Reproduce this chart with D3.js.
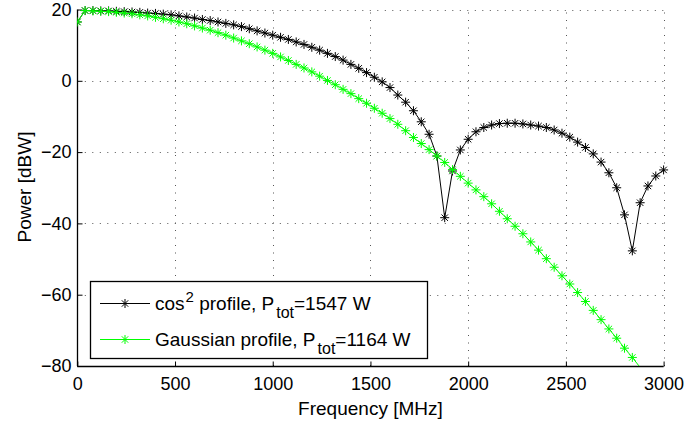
<!DOCTYPE html>
<html>
<head>
<meta charset="utf-8">
<script src="https://cdn.jsdelivr.net/npm/d3@7"></script>
<style>
  body { margin: 0; background: #fff; }
  text { font-family: "Liberation Sans", Arial, sans-serif; fill: #000; }
</style>
</head>
<body>
<svg id="chart"></svg>
<script>
// Chart data: frequency grid in MHz, power in dBW
var freqs = d3.range(0, 3001, 40);

var cosPower = [
  16.5, 19.7, 19.7, 19.6, 19.6, 19.5, 19.4, 19.3, 19.2, 19.0,
  18.9, 18.7, 18.5, 18.2, 17.9, 17.6, 17.2, 16.9, 16.5, 16.1,
  15.7, 15.2, 14.6, 14.0, 13.4, 12.8, 12.2, 11.6, 10.9, 10.2,
  9.4, 8.6, 7.7, 6.8, 5.8, 4.6, 3.5, 2.3, 1.0, -0.3,
  -1.9, -4.0, -6.0, -8.4, -11.5, -15.0, -21.1, -38.4, -25.3, -19.4,
  -16.4, -14.3, -13.1, -12.4, -12.0, -11.9, -11.9, -12.1, -12.4, -12.7,
  -13.1, -13.8, -14.7, -15.8, -17.2, -18.7, -20.5, -22.8, -25.8, -30.0,
  -37.6, -47.7, -34.2, -29.5, -26.7, -25.0
];

var gaussPower = [
  16.5, 19.7, 19.6, 19.5, 19.4, 19.2, 19.0, 18.8, 18.5, 18.2,
  17.8, 17.4, 17.0, 16.5, 16.0, 15.4, 14.8, 14.2, 13.5, 12.8,
  12.0, 11.2, 10.4, 9.5, 8.6, 7.7, 6.7, 5.7, 4.6, 3.6,
  2.5, 1.3, 0.1, -1.1, -2.4, -3.6, -5.0, -6.3, -7.7, -9.1,
  -10.6, -12.2, -14.0, -15.9, -17.6, -19.3, -21.1, -22.9, -24.9, -26.8,
  -28.7, -30.6, -32.5, -34.5, -36.6, -38.7, -40.8, -42.9, -45.2, -47.5,
  -49.9, -52.3, -54.7, -57.0, -59.4, -61.9, -64.4, -67.0, -69.6, -72.2,
  -75.0, -77.6, -80.4, -83.2, -86.0, -88.9
];

var xTicks = [0, 500, 1000, 1500, 2000, 2500, 3000];
var yTicks = [20, 0, -20, -40, -60, -80];

var seriesNames = ["cos2", "gauss"];
var seriesColors = ["#000000", "#00ff00"];

// Set up SVG size
var width = 686, height = 423;
var margin = {left: 77.3, right: 686 - 663.6, top: 9.5, bottom: 423 - 366};

var svg = d3.select("#chart")
    .attr("width", width)
    .attr("height", height);

svg.append("rect")
    .attr("width", width)
    .attr("height", height)
    .attr("fill", "#fff");

var x = d3.scaleLinear().domain([0, 3000]).range([margin.left, width - margin.right]);
var y = d3.scaleLinear().domain([-80, 20]).range([height - margin.bottom, margin.top]);

// dotted grid
var grid = svg.append("g").attr("class", "grid");
grid.selectAll("line.vx")
    .data(xTicks)
    .enter().append("line")
        .attr("x1", d => Math.round(x(d)) + 0.5)
        .attr("x2", d => Math.round(x(d)) + 0.5)
        .attr("y1", y(-80))
        .attr("y2", y(20))
        .attr("stroke", "#555")
        .attr("stroke-width", 1)
        .attr("stroke-dasharray", "1,6.5");
grid.selectAll("line.hy")
    .data(yTicks)
    .enter().append("line")
        .attr("y1", d => Math.round(y(d)) + 0.5)
        .attr("y2", d => Math.round(y(d)) + 0.5)
        .attr("x1", x(0))
        .attr("x2", x(3000))
        .attr("stroke", "#555")
        .attr("stroke-width", 1)
        .attr("stroke-dasharray", "1,6.5");

// axes (left and bottom only, ticks inward)
var xAxis = d3.axisBottom(x).tickValues(xTicks).tickSize(-5).tickPadding(11).tickFormat(d3.format("d"));
var yAxis = d3.axisLeft(y).tickValues(yTicks).tickSize(-5).tickPadding(6)
    .tickFormat(d => d < 0 ? "\u2212" + Math.abs(d) : d);

var gx = svg.append("g")
    .attr("transform", "translate(0," + (Math.round(y(-80)) + 0.5) + ")")
    .call(xAxis);
var gy = svg.append("g")
    .attr("transform", "translate(" + (Math.round(x(0)) + 0.5) + ",0)")
    .call(yAxis);

[gx, gy].forEach(function(g) {
    g.select(".domain").attr("stroke", "#000").attr("stroke-width", 1.3);
    g.selectAll(".tick line").attr("stroke", "#000");
    g.selectAll(".tick text")
        .attr("font-size", "18px")
        .attr("font-family", "Liberation Sans, Arial, sans-serif")
        .attr("fill", "#000");
});
// only the axis lines, no outer ticks
gy.select(".domain").attr("d", "M0," + y(20) + "V" + y(-80));
gx.select(".domain").attr("d", "M" + x(0) + ",0H" + x(3000));

// axis labels
svg.append("text")
    .attr("x", (x(0) + x(3000)) / 2)
    .attr("y", 415)
    .attr("text-anchor", "middle")
    .attr("font-size", "19px")
    .text("Frequency [MHz]");

svg.append("text")
    .attr("transform", "translate(31,187) rotate(-90)")
    .attr("text-anchor", "middle")
    .attr("font-size", "19px")
    .text("Power [dBW]");

// clip to plot area
svg.append("clipPath").attr("id", "plotclip")
    .append("rect")
    .attr("x", x(0)).attr("y", y(20) - 6)
    .attr("width", x(3000) - x(0) + 6)
    .attr("height", y(-80) - y(20) + 6);

var line = d3.line()
    .x((d, i) => x(freqs[i]))
    .y(d => y(d));

// asterisk marker path
function star(cx, cy) {
    var a = 4.5, b = 3.2;
    return "M" + (cx - a) + "," + cy + "H" + (cx + a) +
        "M" + cx + "," + (cy - a) + "V" + (cy + a) +
        "M" + (cx - b) + "," + (cy - b) + "L" + (cx + b) + "," + (cy + b) +
        "M" + (cx - b) + "," + (cy + b) + "L" + (cx + b) + "," + (cy - b);
}

var plot = svg.append("g").attr("clip-path", "url(#plotclip)");

[cosPower, gaussPower].forEach(function(vals, k) {
    var g = plot.append("g").attr("class", "series-" + seriesNames[k]);
    g.append("path")
        .datum(vals)
        .attr("d", line)
        .attr("fill", "none")
        .attr("stroke", seriesColors[k])
        .attr("stroke-width", 1);
    g.selectAll("path.mk")
        .data(vals.filter(v => v >= -80))
        .enter().append("path")
            .attr("class", "mk")
            .attr("d", (d, i) => star(x(freqs[i]), y(d)))
            .attr("fill", "none")
            .attr("stroke", seriesColors[k])
            .attr("stroke-width", 1);
});

// legend
var legend = svg.append("g").attr("class", "legend");
legend.append("rect")
    .attr("x", 90.5).attr("y", 281.5)
    .attr("width", 337).attr("height", 77)
    .attr("fill", "#fff")
    .attr("stroke", "#000")
    .attr("stroke-width", 1.3);

var rows = [
    {yy: 303.5, main: "cos", sup: "2", rest: " profile, P", val: "=1547 W"},
    {yy: 339.5, main: "Gaussian profile, P", sup: null, rest: "", val: "=1164 W"}
];

rows.forEach(function(r, k) {
    legend.append("line")
        .attr("x1", 100).attr("x2", 150)
        .attr("y1", r.yy).attr("y2", r.yy)
        .attr("stroke", seriesColors[k]).attr("stroke-width", 1);
    legend.append("path")
        .attr("d", star(125, r.yy))
        .attr("fill", "none")
        .attr("stroke", seriesColors[k]).attr("stroke-width", 1);
    var t = legend.append("text")
        .attr("x", 155).attr("y", r.yy + 6.5)
        .attr("font-size", "19px");
    t.append("tspan").text(r.main);
    if (r.sup) {
        t.append("tspan").attr("font-size", "15px").attr("dx", 1).attr("dy", -8).text(r.sup);
        t.append("tspan").attr("dy", 8).text(r.rest);
    }
    t.append("tspan").attr("font-size", "16px").attr("dx", 2).attr("dy", 8).text("tot");
    t.append("tspan").attr("dy", -8).text(r.val);
});
</script>
</body>
</html>
